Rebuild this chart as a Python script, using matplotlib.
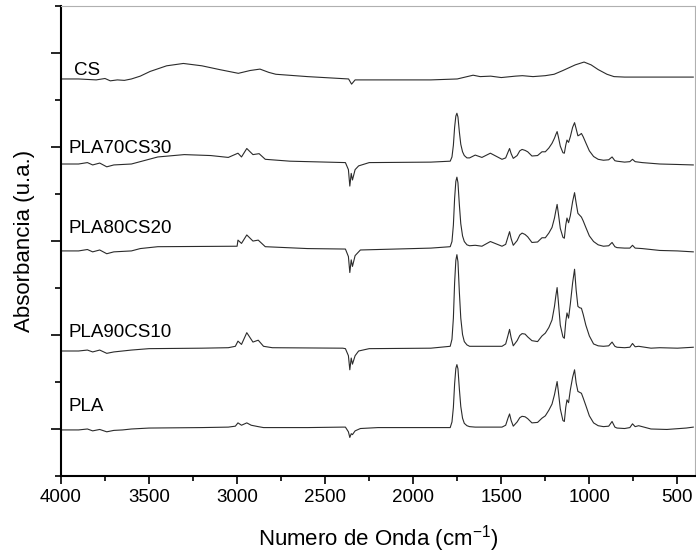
import matplotlib.pyplot as plt
from matplotlib.ticker import MultipleLocator

plt.rcParams['font.family'] = ['Liberation Sans', 'DejaVu Sans']
plt.rcParams['mathtext.fontset'] = 'custom'
plt.rcParams['mathtext.rm'] = 'Liberation Sans'

# (wavenumber cm-1, absorbance above the baseline)
pla = [(4000, 0.0), (3900, 0.0), (3850, 0.02), (3820, -0.02), (3780, 0.01), (3740, -0.04), (3700, -0.01),
       (3650, 0.0), (3600, 0.02), (3500, 0.04), (3200, 0.05), (3050, 0.06), (3010, 0.08), (2995, 0.15),
       (2975, 0.10), (2945, 0.15), (2920, 0.10), (2880, 0.07), (2850, 0.05), (2600, 0.05), (2400, 0.06),
       (2385, 0.06), (2368, -0.04), (2360, -0.16), (2352, -0.08), (2345, -0.10), (2330, -0.02), (2300, 0.03),
       (2200, 0.05), (2000, 0.05), (1900, 0.05),
       (1790, 0.05), (1780, 0.17), (1772, 0.48), (1765, 0.98), (1758, 1.31), (1752, 1.39), (1746, 1.30),
       (1738, 0.87), (1730, 0.50), (1720, 0.25), (1710, 0.14), (1695, 0.09), (1680, 0.07), (1648, 0.06),
       (1562, 0.06), (1496, 0.06), (1475, 0.10), (1462, 0.25), (1453, 0.34), (1444, 0.20), (1432, 0.08),
       (1410, 0.17), (1395, 0.26), (1382, 0.29), (1365, 0.28), (1350, 0.24), (1326, 0.15), (1294, 0.16),
       (1269, 0.25), (1250, 0.30), (1230, 0.42), (1212, 0.55), (1198, 0.75), (1190, 0.90), (1183, 1.03),
       (1176, 0.82), (1165, 0.45), (1150, 0.20), (1142, 0.18), (1134, 0.48), (1127, 0.64), (1118, 0.58),
       (1108, 0.85), (1095, 1.12), (1084, 1.28), (1075, 1.00), (1065, 0.82), (1055, 0.80), (1045, 0.78),
       (1035, 0.68), (1020, 0.52), (1000, 0.30), (976, 0.15), (950, 0.09), (920, 0.07), (890, 0.08),
       (871, 0.18), (855, 0.06), (843, 0.04), (800, 0.03), (770, 0.05), (755, 0.13), (740, 0.07), (720, 0.09),
       (650, 0.02), (560, 0.01), (450, 0.04), (410, 0.06)]

pla90cs10 = [(4000, 0.0), (3900, 0.0), (3850, 0.02), (3820, -0.02), (3780, 0.02), (3740, -0.05), (3700, -0.02),
             (3650, 0.0), (3600, 0.02), (3500, 0.05), (3200, 0.06), (3050, 0.07), (3010, 0.10), (2995, 0.21),
             (2975, 0.14), (2945, 0.39), (2910, 0.19), (2880, 0.23), (2850, 0.10), (2800, 0.07), (2400, 0.06),
             (2385, 0.05), (2368, -0.10), (2360, -0.40), (2352, -0.15), (2345, -0.28), (2330, -0.10), (2310, 0.0),
             (2250, 0.05), (1900, 0.06),
             (1790, 0.10), (1780, 0.25), (1772, 0.70), (1765, 1.45), (1758, 1.93), (1752, 2.05), (1746, 1.90),
             (1738, 1.25), (1730, 0.70), (1720, 0.35), (1710, 0.20), (1695, 0.13), (1680, 0.10), (1648, 0.10),
             (1562, 0.10), (1496, 0.10), (1475, 0.15), (1462, 0.33), (1453, 0.46), (1444, 0.28), (1432, 0.11),
             (1410, 0.22), (1395, 0.33), (1382, 0.37), (1365, 0.36), (1350, 0.30), (1326, 0.22), (1294, 0.20),
             (1269, 0.32), (1250, 0.38), (1230, 0.50), (1212, 0.66), (1198, 0.95), (1190, 1.18), (1183, 1.35),
             (1176, 1.05), (1165, 0.55), (1150, 0.30), (1142, 0.27), (1134, 0.62), (1127, 0.81), (1118, 0.70),
             (1108, 1.00), (1095, 1.45), (1084, 1.74), (1075, 1.30), (1065, 0.95), (1055, 0.92), (1045, 0.91),
             (1035, 0.78), (1020, 0.55), (1000, 0.32), (976, 0.15), (950, 0.11), (920, 0.10), (890, 0.11),
             (871, 0.19), (855, 0.10), (843, 0.08), (800, 0.07), (770, 0.08), (755, 0.16), (740, 0.09), (720, 0.10),
             (650, 0.06), (600, 0.07), (500, 0.06), (410, 0.08)]

pla80cs20 = [(4000, 0.0), (3900, 0.0), (3850, 0.03), (3820, -0.02), (3780, 0.02), (3740, -0.06), (3700, -0.02),
             (3650, -0.01), (3600, 0.0), (3550, 0.05), (3450, 0.09), (3000, 0.10), (2995, 0.23), (2975, 0.16),
             (2945, 0.34), (2910, 0.21), (2880, 0.23), (2840, 0.09), (2600, 0.05), (2385, 0.04), (2368, -0.12),
             (2360, -0.46), (2352, -0.19), (2345, -0.33), (2330, -0.10), (2300, 0.02), (1900, 0.06),
             (1790, 0.09), (1780, 0.20), (1772, 0.55), (1765, 1.12), (1758, 1.48), (1752, 1.57), (1746, 1.45),
             (1738, 0.98), (1730, 0.58), (1720, 0.32), (1710, 0.20), (1695, 0.13), (1680, 0.11), (1648, 0.12),
             (1610, 0.10), (1562, 0.20), (1496, 0.10), (1475, 0.14), (1462, 0.30), (1453, 0.41), (1444, 0.26),
             (1432, 0.12), (1410, 0.22), (1395, 0.34), (1382, 0.38), (1365, 0.35), (1350, 0.30), (1326, 0.18),
             (1294, 0.19), (1269, 0.28), (1250, 0.28), (1230, 0.38), (1212, 0.50), (1198, 0.70), (1190, 0.86),
             (1183, 0.99), (1176, 0.80), (1165, 0.48), (1150, 0.29), (1142, 0.27), (1134, 0.55), (1127, 0.70),
             (1118, 0.60), (1108, 0.75), (1095, 1.05), (1084, 1.24), (1075, 1.02), (1065, 0.80), (1055, 0.76),
             (1045, 0.72), (1035, 0.64), (1020, 0.50), (1000, 0.32), (976, 0.20), (950, 0.13), (920, 0.10),
             (890, 0.11), (871, 0.18), (855, 0.09), (843, 0.07), (800, 0.06), (770, 0.06), (755, 0.12), (740, 0.06),
             (700, 0.05), (600, 0.01), (500, 0.0), (410, -0.02)]

pla70cs30 = [(4000, 0.0), (3900, 0.0), (3850, 0.03), (3820, -0.02), (3780, 0.02), (3740, -0.06), (3700, -0.02),
             (3650, -0.01), (3600, 0.0), (3550, 0.05), (3450, 0.15), (3300, 0.20), (3150, 0.18), (3050, 0.14),
             (2995, 0.23), (2975, 0.15), (2945, 0.33), (2910, 0.20), (2875, 0.22), (2840, 0.10), (2700, 0.06),
             (2385, 0.03), (2368, -0.12), (2360, -0.47), (2352, -0.20), (2345, -0.34), (2330, -0.12), (2310, -0.04),
             (2250, 0.03), (1900, 0.04),
             (1790, 0.06), (1780, 0.15), (1772, 0.40), (1765, 0.78), (1758, 1.02), (1752, 1.08), (1746, 1.00),
             (1738, 0.68), (1730, 0.42), (1720, 0.26), (1710, 0.18), (1695, 0.13), (1680, 0.13), (1648, 0.19),
             (1610, 0.14), (1562, 0.23), (1496, 0.10), (1475, 0.13), (1462, 0.25), (1453, 0.33), (1444, 0.22),
             (1432, 0.12), (1410, 0.18), (1395, 0.28), (1382, 0.31), (1365, 0.29), (1350, 0.26), (1326, 0.17),
             (1294, 0.18), (1269, 0.26), (1250, 0.26), (1230, 0.34), (1212, 0.44), (1198, 0.55), (1190, 0.63),
             (1183, 0.69), (1176, 0.58), (1165, 0.38), (1150, 0.24), (1142, 0.23), (1134, 0.40), (1127, 0.51),
             (1118, 0.46), (1108, 0.58), (1095, 0.78), (1084, 0.88), (1075, 0.75), (1065, 0.60), (1055, 0.62),
             (1045, 0.65), (1035, 0.58), (1020, 0.45), (1000, 0.28), (976, 0.16), (950, 0.10), (920, 0.08),
             (890, 0.09), (871, 0.15), (855, 0.07), (843, 0.06), (800, 0.04), (770, 0.05), (755, 0.10), (740, 0.05),
             (700, 0.03), (600, 0.0), (500, -0.01), (410, -0.02)]

cs = [(4000, 0.0), (3900, 0.0), (3800, -0.02), (3750, 0.01), (3720, -0.04), (3680, -0.02), (3640, -0.03),
      (3600, 0.0), (3550, 0.06), (3494, 0.16), (3400, 0.28), (3305, 0.33), (3200, 0.28), (3100, 0.20),
      (2993, 0.12), (2926, 0.18), (2870, 0.21), (2820, 0.14), (2780, 0.10), (2600, 0.05), (2367, 0.0),
      (2350, -0.11), (2330, -0.02), (2100, -0.02), (1900, -0.02), (1750, 0.0), (1660, 0.08), (1620, 0.05),
      (1560, 0.06), (1500, 0.03), (1420, 0.06), (1380, 0.07), (1320, 0.05), (1250, 0.07), (1200, 0.10),
      (1150, 0.18), (1080, 0.30), (1030, 0.36), (990, 0.30), (950, 0.20), (900, 0.10), (860, 0.05),
      (800, 0.04), (600, 0.04), (410, 0.04)]

names = ['PLA', 'PLA90CS10', 'PLA80CS20', 'PLA70CS30', 'CS']
offsets = [0.98, 2.66, 4.79, 6.64, 8.45]
label_y = [1.47, 3.06, 5.26, 6.96, 8.64]
spectra = [pla, pla90cs10, pla80cs20, pla70cs30, cs]

fig = plt.figure(figsize=(6.96, 5.58), dpi=100)
ax = fig.add_axes([0.0876, 0.147, 0.911, 0.842])

for spec, off, name, ly in zip(spectra, offsets, names, label_y):
    wn = [p[0] for p in spec]
    ab = [p[1] + off for p in spec]
    ax.plot(wn, ab, color='#2b2b2b', lw=0.8)
    lx = 3926 if name == 'CS' else 3955
    ax.text(lx, ly, name, fontsize=13.5, ha='left', va='center')

ax.set_xlim(4000, 400)
ax.set_ylim(0, 10)
ax.xaxis.set_major_locator(MultipleLocator(500))
ax.xaxis.set_minor_locator(MultipleLocator(250))
ax.set_yticks([1, 3, 5, 7, 9])
ax.set_yticks([0, 2, 4, 6, 8, 10], minor=True)
ax.set_yticklabels([])
ax.tick_params(axis='x', which='major', length=5.5, width=1.2, labelsize=13.5, direction='out', pad=4)
ax.tick_params(axis='x', which='minor', length=3.5, width=1.2, direction='out')
ax.tick_params(axis='y', which='major', length=7, width=1.2, direction='out')
ax.tick_params(axis='y', which='minor', length=4, width=1.2, direction='out')

for s in ['left', 'bottom']:
    ax.spines[s].set_linewidth(1.5)
for s in ['top', 'right']:
    ax.spines[s].set_color('#b0b0b0')
    ax.spines[s].set_linewidth(0.8)

ax.set_xlabel('Numero de Onda (cm$^{-1}$)', fontsize=16, labelpad=12)
ax.set_ylabel('Absorbancia (u.a.)', fontsize=16, labelpad=8)

plt.savefig('out.png', dpi=100)
